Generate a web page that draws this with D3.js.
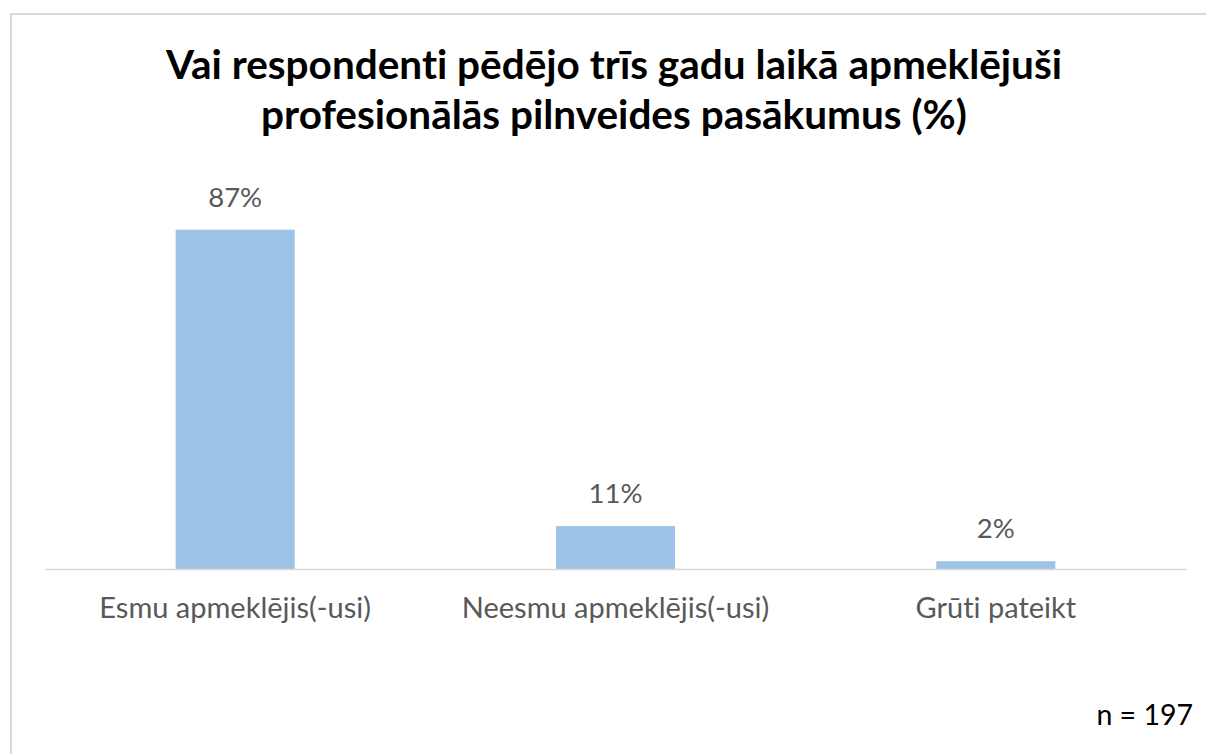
<!DOCTYPE html>
<html><head><meta charset="utf-8">
<script src="https://cdn.jsdelivr.net/npm/d3@7"></script>
<style>html,body{margin:0;padding:0;background:#fff;}svg{display:block;}text{font-variant-ligatures:none;font-feature-settings:"liga" 0,"clig" 0;}</style>
</head><body>
<svg id="chart" width="1206" height="754"></svg>
<script>
const titleLines = ["Vai respondenti pēdējo trīs gadu laikā apmeklējuši", "profesionālās pilnveides pasākumus (%)"];
const categories = ["Esmu apmeklējis(-usi)", "Neesmu apmeklējis(-usi)", "Grūti pateikt"];
const values = [87, 11, 2];
const note = "n = 197";

(function () {
const svg = d3.select("#chart");
const font = "Lato, 'Open Sans', sans-serif";

// chart border
svg.append("rect").attr("x", 11).attr("y", 14).attr("width", 1206).attr("height", 760)
  .attr("fill", "#fff").attr("stroke", "#d9d9d9").attr("stroke-width", 2);

const pLeft = 45, pRight = 1186, pBase = 569, pTop = 179;
const x = d3.scaleBand().domain(categories).range([pLeft, pRight]).paddingInner(0.687).paddingOuter(0.3435);
const y = d3.scaleLinear().domain([0, 100]).range([pBase, pTop]);

svg.selectAll("rect.bar").data(values).join("rect").attr("class", "bar")
  .attr("x", (d, i) => x(categories[i])).attr("width", x.bandwidth())
  .attr("y", d => y(d)).attr("height", d => pBase - y(d))
  .attr("fill", "#9dc3e6");

// x axis
const xAxis = d3.axisBottom(x).tickSize(0).tickPadding(0);
const ax = svg.append("g").attr("transform", `translate(0,${pBase})`).call(xAxis);
ax.select(".domain").attr("stroke", "#d9d9d9").attr("stroke-width", 1.5);
ax.selectAll(".tick text").attr("dy", null).attr("y", 49)
  .attr("font-family", font).attr("font-size", 29).attr("fill", "#595959");

// data labels
svg.selectAll("text.lbl").data(values).join("text").attr("class", "lbl")
  .attr("x", (d, i) => x(categories[i]) + x.bandwidth() / 2)
  .attr("y", d => y(d) - 23)
  .attr("text-anchor", "middle").attr("font-family", font).attr("font-size", 27.5).attr("fill", "#595959")
  .text(d => d + "%");

// title
svg.append("text").attr("x", 614).attr("y", 79).attr("text-anchor", "middle")
  .attr("font-family", font).attr("font-weight", "bold").attr("font-size", 40.5).attr("fill", "#000")
  .selectAll("tspan").data(titleLines).join("tspan")
  .attr("x", 614).attr("dy", (d, i) => i === 0 ? 0 : 50).text(d => d);

svg.append("text").attr("x", 1193).attr("y", 725).attr("text-anchor", "end")
  .attr("font-family", font).attr("font-size", 28.5).attr("fill", "#000").text(note);
})();
</script>
</body></html>
